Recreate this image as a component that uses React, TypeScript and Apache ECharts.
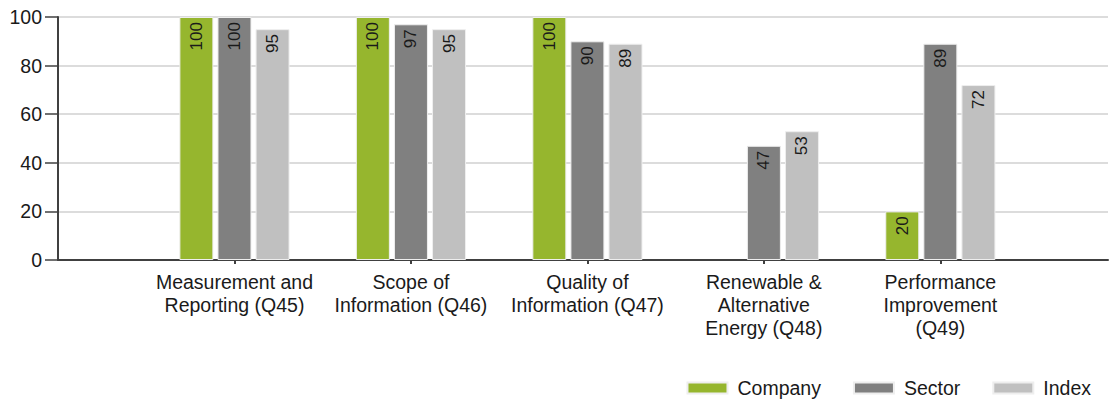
import React, { useEffect, useRef } from "react";
import * as echarts from "echarts";

const categories = [
  "Measurement and\nReporting (Q45)",
  "Scope of\nInformation (Q46)",
  "Quality of\nInformation (Q47)",
  "Renewable &\nAlternative\nEnergy (Q48)",
  "Performance\nImprovement\n(Q49)",
];
const seriesNames = ["Company", "Sector", "Index"];
const companyValues: (number | null)[] = [100, 100, 100, null, 20];
const sectorValues: (number | null)[] = [100, 97, 90, 47, 89];
const indexValues: (number | null)[] = [95, 95, 89, 53, 72];
const colors = ["#96b62e", "#808080", "#c0c0c0"];

const FONT = "'Liberation Sans', Arial, sans-serif";
const TEXT = "#1a1a1a";

function toPoints(values: (number | null)[]) {
  return values
    .map((v, i) => [i + 1, v] as [number, number | null])
    .filter((d) => d[1] !== null);
}

export default function App() {
  const ref = useRef<HTMLDivElement>(null);
  useEffect(() => {
    if (!ref.current) return;
    const chart = echarts.init(ref.current, null, { renderer: "svg" });
    const allValues = [companyValues, sectorValues, indexValues];
    const positions = categories.map((_, i) => i + 1);
    chart.setOption({
      animation: false,
      backgroundColor: "#ffffff",
      textStyle: { fontFamily: FONT },
      grid: { left: 58, right: 2, top: 17, bottom: 141, containLabel: false },
      legend: {
        right: 14,
        top: 373,
        itemWidth: 40,
        itemHeight: 11,
        itemGap: 32,
        icon: "rect",
        data: seriesNames,
        textStyle: { fontFamily: FONT, fontSize: 19.5, color: TEXT, padding: [0, 0, 0, 5] },
      },
      xAxis: {
        type: "value",
        min: 0,
        max: 5.95,
        interval: 1,
        splitLine: { show: false },
        axisLine: { show: true, onZero: false, lineStyle: { color: "#404040", width: 2 } },
        axisTick: {
          show: true,
          length: 4,
          customValues: positions,
          lineStyle: { color: "#404040", width: 2 },
        },
        axisLabel: {
          customValues: positions,
          fontFamily: FONT,
          fontSize: 19.5,
          color: TEXT,
          lineHeight: 23,
          margin: 10,
          formatter: (v: number) => categories[Math.round(v) - 1] ?? "",
        },
      },
      yAxis: {
        type: "value",
        min: 0,
        max: 100,
        interval: 20,
        axisLine: { show: true, lineStyle: { color: "#404040", width: 2 } },
        axisTick: { show: true, length: 13, lineStyle: { color: "#404040", width: 1.5 } },
        axisLabel: { fontFamily: FONT, fontSize: 19.5, color: TEXT, margin: 16 },
        splitLine: { show: true, lineStyle: { color: "#dcdcdc", width: 2 } },
      },
      series: seriesNames.map((name, s) => ({
        name,
        type: "bar",
        barWidth: 34,
        barGap: "12%",
        data: toPoints(allValues[s]),
        itemStyle: { color: colors[s], borderColor: "#eeeeee", borderWidth: 1 },
        label: {
          show: true,
          position: "insideTop",
          rotate: 90,
          align: "right",
          verticalAlign: "middle",
          distance: 5,
          fontFamily: FONT,
          fontSize: 17,
          color: TEXT,
          formatter: (p: any) => String(p.value[1]),
        },
      })),
    });
    return () => chart.dispose();
  }, []);
  return (
    <div
      ref={ref}
      style={{ position: "absolute", left: 0, top: 0, width: 1110, height: 401 }}
    />
  );
}
